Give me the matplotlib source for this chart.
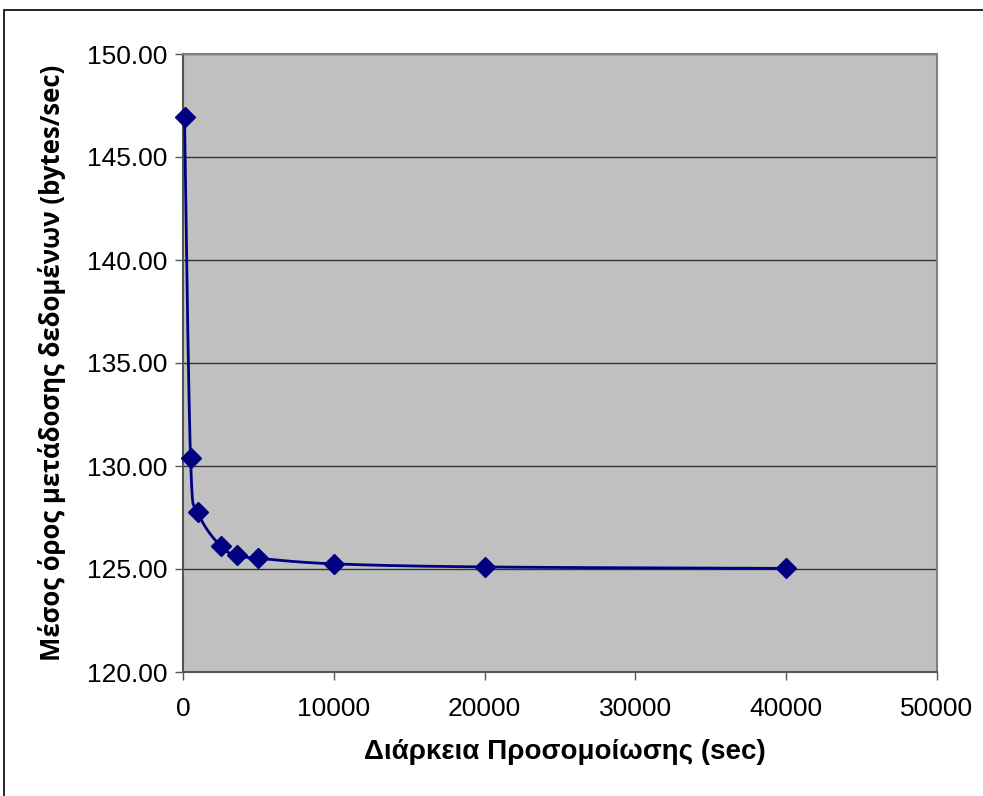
import numpy as np
import matplotlib.pyplot as plt
from matplotlib.patches import Rectangle

plt.rcParams['font.family'] = ['Liberation Sans', 'DejaVu Sans']

# Διάρκεια προσομοίωσης (sec) και μέσος όρος μετάδοσης (bytes/sec)
duration = [100, 500, 1000, 2500, 3600, 5000, 10000, 20000, 40000]
throughput = [146.95, 130.38, 127.76, 126.10, 125.66, 125.52, 125.25, 125.10, 125.03]

x_ticks = [0, 10000, 20000, 30000, 40000, 50000]
y_ticks = [120, 125, 130, 135, 140, 145, 150]


def catmull_rom(xs, ys, n=40):
    # ομαλή καμπύλη σαν το "smoothed line" του Excel
    pts = np.column_stack([xs, ys]).astype(float)
    p = np.vstack([pts[0], pts, pts[-1]])
    out = []
    for i in range(1, len(p) - 2):
        p0, p1, p2, p3 = p[i - 1], p[i], p[i + 1], p[i + 2]
        t = np.linspace(0, 1, n)[:, None]
        c = 0.5 * ((2 * p1) + (-p0 + p2) * t + (2 * p0 - 5 * p1 + 4 * p2 - p3) * t ** 2
                   + (-p0 + 3 * p1 - 3 * p2 + p3) * t ** 3)
        out.append(c)
    c = np.vstack(out)
    return c[:, 0], c[:, 1]


fig = plt.figure(figsize=(9.83, 7.96), dpi=100)
W, H = 983, 796
ax = fig.add_axes([183 / W, 1 - 672 / H, (937 - 183) / W, (672 - 54) / H])

# πλαίσιο γραφήματος
fig.patches.append(Rectangle((4 / W, -0.05), 1.1, 1 - 10 / H + 0.05, transform=fig.transFigure,
                             fill=False, edgecolor='black', linewidth=1.2))

ax.set_facecolor('#C0C0C0')
for s in ax.spines.values():
    s.set_color('#808080')
    s.set_linewidth(1.5)
ax.spines['left'].set_color('#555555')
ax.spines['bottom'].set_color('#555555')

ax.set_xlim(0, 50000)
ax.set_ylim(120, 150)
ax.set_xticks(x_ticks)
ax.set_yticks(y_ticks)
ax.set_yticklabels([f'{v:.2f}' for v in y_ticks])
ax.yaxis.grid(True, color='#333333', linewidth=1)
ax.set_axisbelow(True)
ax.tick_params(axis='both', direction='out', length=6, width=1, color='#555555',
               labelsize=19, pad=5)
ax.tick_params(axis='x', pad=12)

sx, sy = catmull_rom(duration, throughput)
ax.plot(sx, sy, color='#000080', linewidth=2, zorder=3)
ax.plot(duration, throughput, linestyle='none', marker='D', markersize=10,
        color='#000080', zorder=4, clip_on=False)

fig.text(565 / W, 1 - 752 / H, 'Διάρκεια Προσομοίωσης (sec)', fontsize=20,
         fontweight='bold', ha='center', va='center')
fig.text(52 / W, 1 - 363 / H, 'Μέσος όρος μετάδοσης δεδομένων (bytes/sec)', fontsize=18.5,
         fontweight='bold', family=['Open Sans', 'DejaVu Sans'], rotation=90,
         ha='center', va='center')

fig.savefig('out.png', dpi=100)
